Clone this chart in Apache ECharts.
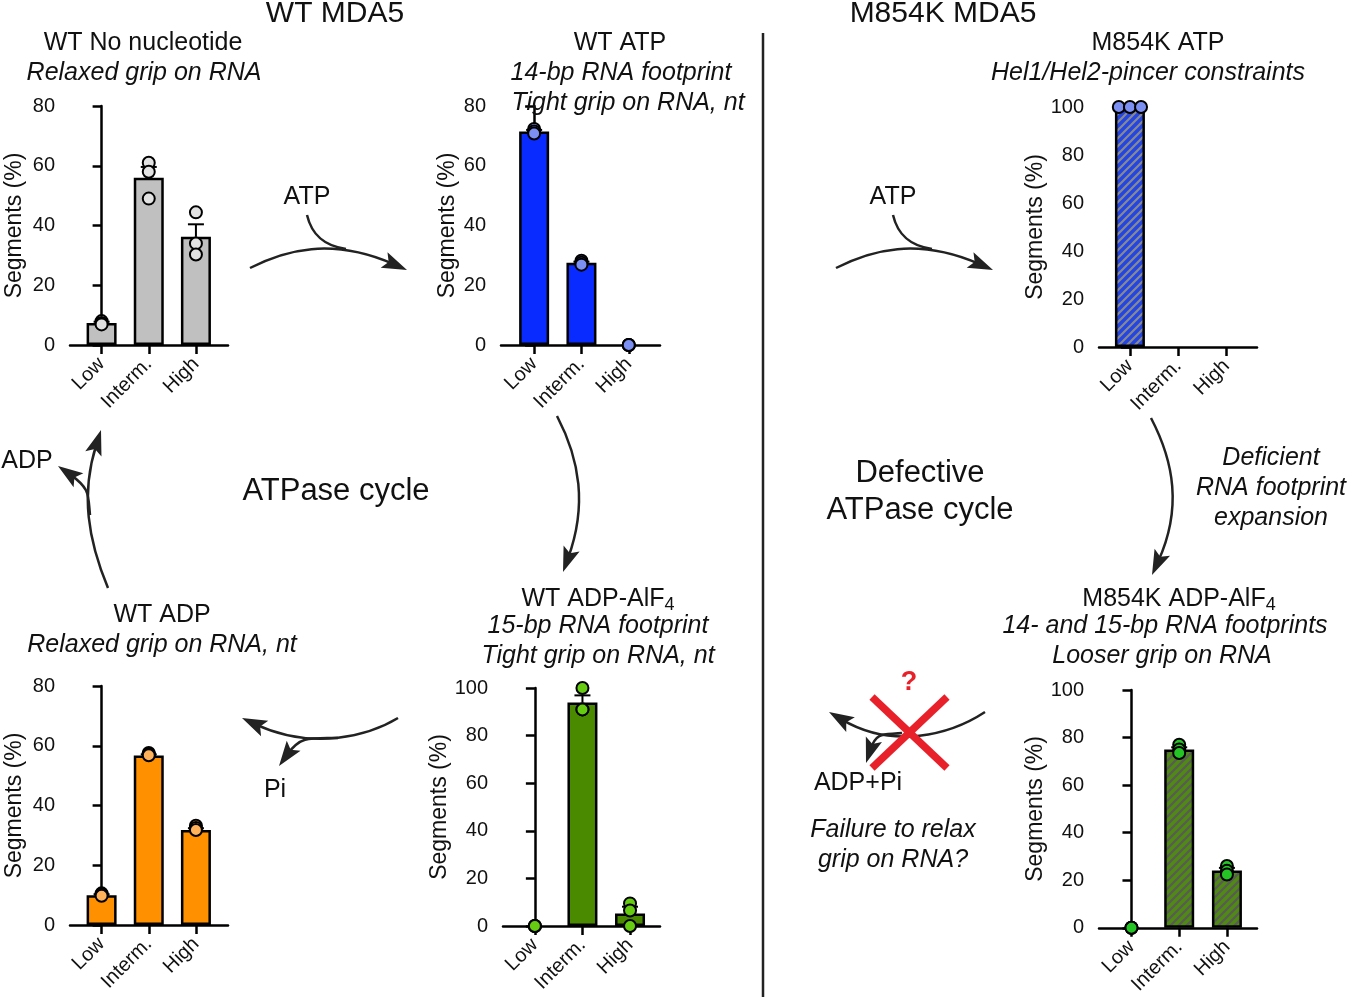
<!DOCTYPE html>
<html><head><meta charset="utf-8">
<script src="https://cdn.jsdelivr.net/npm/echarts@6/dist/echarts.min.js"></script>
<style>html,body{margin:0;padding:0;background:#fff}#c{width:1347px;height:997px}</style>
</head><body><div id="c"></div>
<script>
// ---------- data ----------
const categories = ['Low', 'Interm.', 'High'];
const yTicks80 = [0, 20, 40, 60, 80];
const yTicks100 = [0, 20, 40, 60, 80, 100];

const wtNoNucMean = [7.4, 56.0, 36.2];
const wtNoNucSem = [0.4, 3.6, 4.2];
const wtNoNucPoints = [[8.0, 7.4, 6.9], [61.0, 58.0, 49.0], [44.4, 34.0, 30.3]];

const wtAtpMean = [71.5, 27.5, 0];
const wtAtpSem = [0.5, 0.4, 0];
const wtAtpPoints = [[72.3, 71.5, 70.8], [28.2, 27.5, 26.9], [0, 0, 0]];

const m854kAtpMean = [100, 0, 0];
const m854kAtpSem = [0, 0, 0];
const m854kAtpPoints = [[100, 100, 100], [], []];

const wtAdpMean = [10.0, 56.7, 31.8];
const wtAdpSem = [0.3, 0.4, 0.6];
const wtAdpPoints = [[10.6, 10.2, 9.8], [57.6, 57.2, 56.8], [33.2, 32.5, 31.8]];

const wtAdpAlfMean = [0, 93.9, 5.3];
const wtAdpAlfSem = [0, 3.0, 2.8];
const wtAdpAlfPoints = [[0, 0, 0], [100, 91, 91], [9.5, 0, 6.5]];

const m854kAdpAlfMean = [0, 75.0, 24.1];
const m854kAdpAlfSem = [0, 0.9, 1.1];
const m854kAdpAlfPoints = [[0, 0, 0], [77.0, 75.0, 73.5], [26.0, 24.0, 22.4]];

// ---------- styling / layout ----------
const FONT = '"Liberation Sans", Arial, Helvetica, sans-serif';
const INK = '#111';
const TXT = 25;

function hatch(base, stripe) {
  const c = document.createElement('canvas');
  c.width = 8; c.height = 8;
  const g = c.getContext('2d');
  g.fillStyle = base; g.fillRect(0, 0, 8, 8);
  g.strokeStyle = stripe; g.lineWidth = 2.2;
  g.beginPath();
  g.moveTo(-2, 10); g.lineTo(10, -2);
  g.moveTo(-2, 2); g.lineTo(2, -2);
  g.moveTo(6, 10); g.lineTo(10, 6);
  g.stroke();
  return { image: c, repeat: 'repeat' };
}

const panels = [
  { grid: { left: 70, top: 106, width: 158, height: 239 }, xr: [-0.67, 2.68], ymax: 80, nameGap: 44,
    mean: wtNoNucMean, sem: wtNoNucSem, pts: wtNoNucPoints, bar: '#c0c0c0', dot: '#e2e2e2', spread: false },
  { grid: { left: 501, top: 106, width: 159, height: 239 }, xr: [-0.70, 2.66], ymax: 80, nameGap: 42,
    mean: wtAtpMean, sem: wtAtpSem, pts: wtAtpPoints, bar: '#0a2bff', dot: '#7b90f2', spread: false },
  { grid: { left: 1099, top: 107, width: 158, height: 240 }, xr: [-0.64, 2.63], ymax: 100, nameGap: 46,
    mean: m854kAtpMean, sem: m854kAtpSem, pts: m854kAtpPoints, bar: hatch('#2445e6', '#8a8a8a'), dot: '#7b90f2', spread: true },
  { grid: { left: 70, top: 686, width: 158, height: 239 }, xr: [-0.67, 2.68], ymax: 80, nameGap: 44,
    mean: wtAdpMean, sem: wtAdpSem, pts: wtAdpPoints, bar: '#ff9100', dot: '#ffb25a', spread: false },
  { grid: { left: 503, top: 688, width: 157, height: 238 }, xr: [-0.67, 2.63], ymax: 100, nameGap: 46,
    mean: wtAdpAlfMean, sem: wtAdpAlfSem, pts: wtAdpAlfPoints, bar: '#4a8a00', dot: '#66cc11', spread: false },
  { grid: { left: 1099, top: 690, width: 158, height: 238 }, xr: [-0.68, 2.63], ymax: 100, nameGap: 46,
    mean: m854kAdpAlfMean, sem: m854kAdpAlfSem, pts: m854kAdpAlfPoints, bar: hatch('#4f8a12', '#5a5a5a'), dot: '#25c425', spread: false }
];

const grids = [], xAxes = [], yAxes = [], series = [];
panels.forEach((p, i) => {
  grids.push(p.grid);
  xAxes.push({
    gridIndex: i, type: 'value', min: p.xr[0], max: p.xr[1],
    axisLine: { show: true, onZero: false, lineStyle: { color: '#000', width: 2.5 } },
    axisTick: { show: true, customValues: [0, 1, 2], length: 9, lineStyle: { color: '#000', width: 2.5 } },
    axisLabel: { customValues: [0, 1, 2], formatter: v => categories[Math.round(v)], rotate: 45, margin: 16,
      fontSize: 20, color: INK, fontFamily: FONT },
    splitLine: { show: false }
  });
  const ticks = p.ymax === 80 ? yTicks80 : yTicks100;
  yAxes.push({
    gridIndex: i, type: 'value', min: 0, max: p.ymax, interval: 20,
    name: 'Segments (%)', nameLocation: 'middle', nameRotate: 90, nameGap: p.nameGap,
    nameTextStyle: { fontSize: 23, color: INK, fontFamily: FONT },
    axisLine: { show: true, lineStyle: { color: '#000', width: 2.5 } },
    axisTick: { show: true, length: 9, lineStyle: { color: '#000', width: 2.5 } },
    axisLabel: { fontSize: 20, color: INK, fontFamily: FONT, margin: 15,
      formatter: v => ticks.includes(v) ? String(v) : '' },
    splitLine: { show: false }
  });
  series.push({
    type: 'bar', xAxisIndex: i, yAxisIndex: i, barWidth: 30, z: 2,
    data: p.mean.map((m, j) => [j, m]).filter(d => d[1] > 0),
    itemStyle: { color: p.bar, borderColor: '#000', borderWidth: 2.5 }
  });
  series.push({
    type: 'custom', xAxisIndex: i, yAxisIndex: i, z: 3,
    data: p.mean.map((m, j) => [j, m, p.sem[j]]).filter(d => d[2] > 0),
    renderItem: (params, api) => {
      const a = api.coord([api.value(0), api.value(1)]);
      const b = api.coord([api.value(0), api.value(1) + api.value(2)]);
      const st = { stroke: '#000', lineWidth: 2 };
      return { type: 'group', children: [
        { type: 'line', shape: { x1: a[0], y1: a[1], x2: b[0], y2: b[1] }, style: st },
        { type: 'line', shape: { x1: b[0] - 8, y1: b[1], x2: b[0] + 8, y2: b[1] }, style: st }
      ] };
    }
  });
  const sd = [];
  p.pts.forEach((arr, j) => arr.forEach((v, k) => {
    const off = p.spread ? (k - (arr.length - 1) / 2) * 0.23 : 0;
    sd.push([j + off, v]);
  }));
  series.push({
    type: 'scatter', xAxisIndex: i, yAxisIndex: i, z: 4, symbolSize: 12,
    data: sd, itemStyle: { color: p.dot, borderColor: '#000', borderWidth: 2, opacity: 1 }
  });
});

// ---------- annotations ----------
const G = [];
function txt(t, x, y, size, opt) {
  opt = opt || {};
  G.push({ type: 'text', z: 100, style: Object.assign({
    text: t, x: x, y: y, fill: opt.fill || INK, align: 'center', verticalAlign: 'middle',
    font: (opt.italic ? 'italic ' : '') + (opt.bold ? 'bold ' : '') + size + 'px ' + FONT
  }, opt.extra || {}) });
}
function arrow(x0, y0, c1x, c1y, c2x, c2y, x1, y1) {
  let tx = x1 - c2x, ty = y1 - c2y; const l = Math.hypot(tx, ty); tx /= l; ty /= l;
  const L = 25, w = 8.5, nx = -ty, ny = tx;
  const bx = x1 - tx * L, by = y1 - ty * L;
  const ex = x1 - tx * L * 0.6, ey = y1 - ty * L * 0.6;
  G.push({ type: 'bezierCurve', z: 100, shape: { x1: x0, y1: y0, cpx1: c1x, cpy1: c1y,
    cpx2: c2x - tx * L * 0.6, cpy2: c2y - ty * L * 0.6, x2: ex, y2: ey },
    style: { stroke: '#222', lineWidth: 2.5, fill: 'none' } });
  G.push({ type: 'polygon', z: 101, shape: { points: [[x1, y1], [bx + nx * w, by + ny * w],
    [bx + tx * 5, by + ty * 5], [bx - nx * w, by - ny * w]] }, style: { fill: '#222' } });
}
function curve(x0, y0, c1x, c1y, c2x, c2y, x1, y1) {
  G.push({ type: 'bezierCurve', z: 100, shape: { x1: x0, y1: y0, cpx1: c1x, cpy1: c1y, cpx2: c2x, cpy2: c2y, x2: x1, y2: y1 },
    style: { stroke: '#222', lineWidth: 2.5, fill: 'none' } });
}

// divider
G.push({ type: 'line', z: 100, shape: { x1: 763, y1: 33, x2: 763, y2: 997 }, style: { stroke: '#222', lineWidth: 2.5 } });

txt('WT MDA5', 335, 14, 30);
txt('M854K MDA5', 943, 14, 30);

txt('WT No nucleotide', 143, 43, TXT);
txt('Relaxed grip on RNA', 144, 73, TXT, { italic: true });
txt('WT ATP', 620, 43, TXT);
txt('14-bp RNA footprint', 621, 73, TXT, { italic: true });
txt('Tight grip on RNA, nt', 628, 103, TXT, { italic: true });
txt('M854K ATP', 1158, 43, TXT);
txt('Hel1/Hel2-pincer constraints', 1148, 73, TXT, { italic: true });

txt('ATP', 307, 197, TXT);
txt('ATP', 893, 197, TXT);
txt('ADP', 27, 461, TXT);
txt('ATPase cycle', 336, 491, 31);
txt('Defective', 920, 473, 31);
txt('ATPase cycle', 920, 510, 31);
txt('Deficient', 1271, 458, TXT, { italic: true });
txt('RNA footprint', 1271, 488, TXT, { italic: true });
txt('expansion', 1271, 518, TXT, { italic: true });

txt('WT ADP', 162, 615, TXT);
txt('Relaxed grip on RNA, nt', 162, 645, TXT, { italic: true });

const subRich = { n: { fontSize: TXT, fontFamily: FONT, fill: INK }, s: { fontSize: 18, fontFamily: FONT, fill: INK, padding: [13, 0, 0, 0] } };
G.push({ type: 'text', z: 100, style: { text: '{n|WT ADP-AlF}{s|4}', x: 598, y: 599, align: 'center', verticalAlign: 'middle', rich: subRich } });
txt('15-bp RNA footprint', 598, 626, TXT, { italic: true });
txt('Tight grip on RNA, nt', 598, 656, TXT, { italic: true });
G.push({ type: 'text', z: 100, style: { text: '{n|M854K ADP-AlF}{s|4}', x: 1179, y: 599, align: 'center', verticalAlign: 'middle', rich: subRich } });
txt('14- and 15-bp RNA footprints', 1165, 626, TXT, { italic: true });
txt('Looser grip on RNA', 1162, 656, TXT, { italic: true });

txt('Pi', 275, 790, TXT);
txt('ADP+Pi', 858, 783, TXT);
txt('Failure to relax', 893, 830, TXT, { italic: true });
txt('grip on RNA?', 893, 860, TXT, { italic: true });

// arrows
arrow(250, 268, 285, 250, 345, 243, 407, 270);
curve(307, 215, 312, 236, 325, 246, 346, 249);
arrow(836, 268, 871, 250, 931, 243, 993, 270);
curve(893, 215, 898, 236, 911, 246, 932, 249);
arrow(557, 416, 580, 460, 582, 520, 563, 572);
arrow(1151, 418, 1174, 462, 1176, 522, 1152, 575);
arrow(398, 718, 370, 735, 300, 745, 242, 718);
arrow(338, 738, 310, 738, 292, 748, 279, 766);
arrow(108, 588, 88, 540, 85, 480, 101, 430);
arrow(90, 515, 88, 495, 78, 480, 58, 466);
arrow(985, 712, 950, 735, 880, 742, 829, 712);
arrow(902, 733, 885, 735, 872, 745, 866, 763);

// red X and question mark
G.push({ type: 'line', z: 110, shape: { x1: 872, y1: 697, x2: 947, y2: 768 }, style: { stroke: '#e8202a', lineWidth: 7.5 } });
G.push({ type: 'line', z: 110, shape: { x1: 947, y1: 697, x2: 872, y2: 768 }, style: { stroke: '#e8202a', lineWidth: 7.5 } });
txt('?', 909, 683, 27, { fill: '#e8202a', bold: true });

const chart = echarts.init(document.getElementById('c'), null, { renderer: 'canvas' });
chart.setOption({
  animation: false, backgroundColor: '#fff',
  grid: grids, xAxis: xAxes, yAxis: yAxes, series: series, graphic: G
});
</script></body></html>
